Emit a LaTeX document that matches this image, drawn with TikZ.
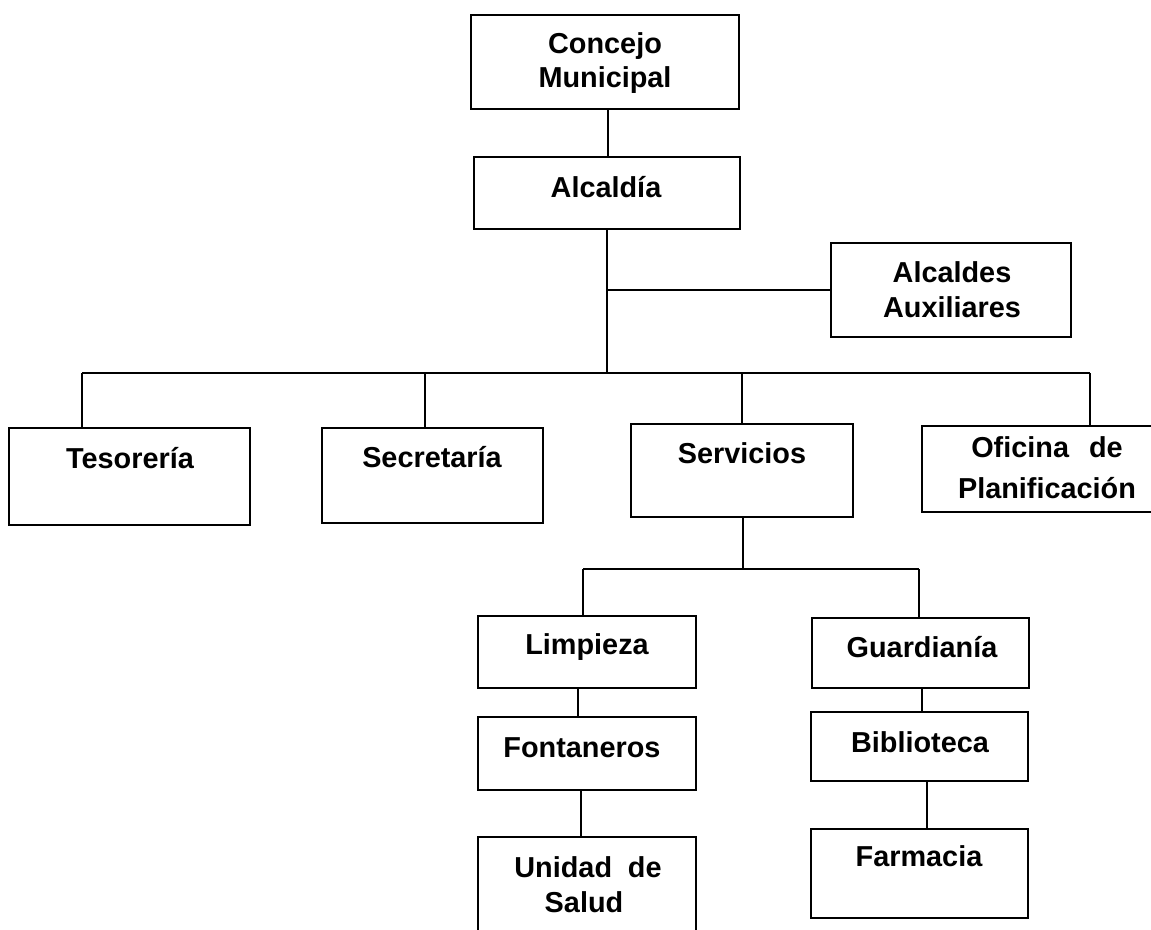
\documentclass[tikz,border=0pt]{standalone}
\usepackage{fontspec}
\setmainfont{Liberation Sans}
\usetikzlibrary{fit}
\begin{document}
\begin{tikzpicture}[x=0.01cm,y=-0.01cm,
  box/.style={draw, line width=0.6pt, inner sep=0pt},
  lbl/.style={font=\fontsize{8.2}{9.8}\selectfont\bfseries, inner sep=0pt, anchor=base},
  ln/.style={line width=0.6pt}]
\useasboundingbox (0,0) rectangle (1151,929);
\fill[white] (0,0) rectangle (1151,929);
\clip (0,0) rectangle (1151,929);
% boxes
\node[box, fit={(471,15) (739,109)}] (con) {};
\node[box, fit={(474,157) (740,229)}] (alc) {};
\node[box, fit={(831,243) (1071,337)}] (aux) {};
\node[box, fit={(9,428) (250,525)}] (tes) {};
\node[box, fit={(322,428) (543,523)}] (sec) {};
\node[box, fit={(631,424) (853,517)}] (ser) {};
\node[box, fit={(922,426) (1170,512)}] (ofi) {};
\node[box, fit={(478,616) (696,688)}] (lim) {};
\node[box, fit={(478,717) (696,790)}] (fon) {};
\node[box, fit={(478,837) (696,945)}] (uni) {};
\node[box, fit={(812,618) (1029,688)}] (gua) {};
\node[box, fit={(811,712) (1028,781)}] (bib) {};
\node[box, fit={(811,829) (1028,918)}] (far) {};
% labels
\node[lbl] (con-a) at (605,53) {Concejo};
\node[lbl] (con-b) at (605,87) {Municipal};
\node[lbl] (alc-t) at (606,197) {Alcaldía};
\node[lbl] (aux-a) at (952,282) {Alcaldes};
\node[lbl] (aux-b) at (952,317) {Auxiliares};
\node[lbl] (tes-t) at (130,468) {Tesorería};
\node[lbl] (sec-t) at (432,467) {Secretaría};
\node[lbl] (ser-t) at (742,463) {Servicios};
\node[lbl] (ofi-a) at (1047,457) {Oficina\hspace{5.7pt}de};
\node[lbl] (ofi-b) at (1047,498) {Planificación};
\node[lbl] (lim-t) at (587,654) {Limpieza};
\node[lbl] (fon-t) at (582,757) {Fontaneros};
\node[lbl] (uni-a) at (588,877) {Unidad\hspace{4.5pt}de};
\node[lbl] (uni-b) at (584,912) {Salud};
\node[lbl] (gua-t) at (922,657) {Guardianía};
\node[lbl] (bib-t) at (920,752) {Biblioteca};
\node[lbl] (far-t) at (919,866) {Farmacia};
% bus coordinates
\coordinate (busL) at (82,373);
\coordinate (busR) at (1090,373);
\coordinate (busA) at (607,373);
\coordinate (subL) at (583,569);
\coordinate (subR) at (919,569);
\coordinate (subA) at (743,569);
% connectors
\draw[ln] (con.south -| 608,0) -- (alc.north -| 608,0);
\draw[ln] (alc.south -| busA) -- (busA);
\draw[ln] (aux.west) -- (aux.west -| busA);
\draw[ln] (busL) -- (busR);
\draw[ln] (busL) -- (tes.north -| busL);
\draw[ln] (sec.north -| 425,0) -- (425,373);
\draw[ln] (ser.north) -- (ser.north |- busA);
\draw[ln] (busR) -- (ofi.north -| busR);
\draw[ln] (ser.south -| subA) -- (subA);
\draw[ln] (subL) -- (subR);
\draw[ln] (subL) -- (lim.north -| subL);
\draw[ln] (subR) -- (gua.north -| subR);
\draw[ln] (lim.south -| 578,0) -- (fon.north -| 578,0);
\draw[ln] (fon.south -| 581,0) -- (uni.north -| 581,0);
\draw[ln] (gua.south -| 922,0) -- (bib.north -| 922,0);
\draw[ln] (bib.south -| 927,0) -- (far.north -| 927,0);
\end{tikzpicture}
\end{document}
